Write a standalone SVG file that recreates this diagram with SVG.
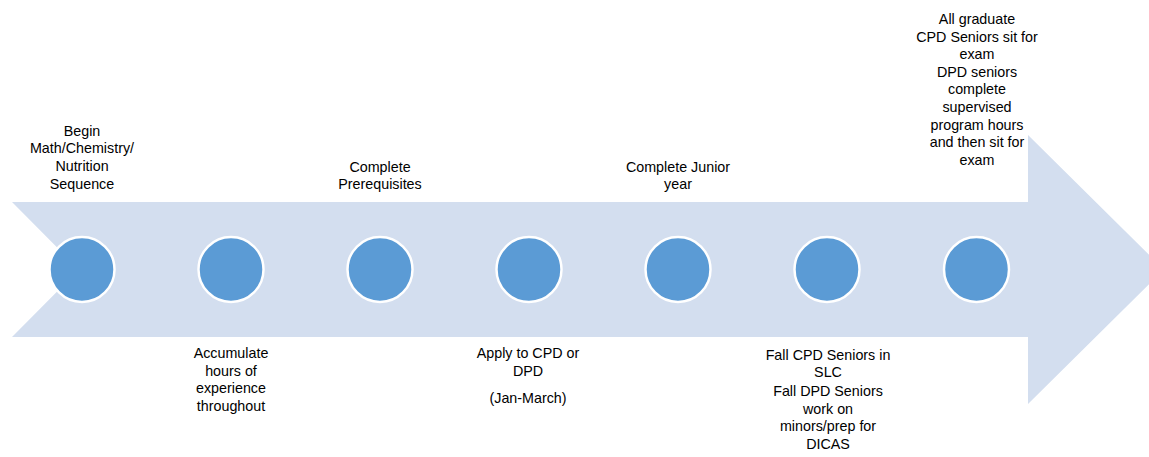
<svg xmlns="http://www.w3.org/2000/svg" width="1149" height="457" viewBox="0 0 1149 457">
<style>
.arrow{fill:#D3DEEF;}
.dot{fill:#5B9BD5;stroke:#FFFFFF;stroke-width:2.5;}
text{font-family:"Liberation Sans",Arial,sans-serif;font-size:14.3px;fill:#000000;text-anchor:middle;}
</style>
<g id="connectors">
<polygon id="timeline-arrow" class="arrow" points="12,202 1028,202 1028,135 1164,269.5 1028,404 1028,337 12,337 79,269.5"/>
</g>
<g id="node1">
<circle class="dot" cx="82" cy="269.5" r="32.5"/>
<text x="82" y="135.7">Begin</text>
<text x="82" y="153.3">Math/Chemistry/</text>
<text x="82" y="170.9">Nutrition</text>
<text x="82" y="188.5">Sequence</text>
</g>
<g id="node2">
<circle class="dot" cx="231" cy="269.5" r="32.5"/>
<text x="231" y="358">Accumulate</text>
<text x="231" y="375.6">hours of</text>
<text x="231" y="393.2">experience</text>
<text x="231" y="410.8">throughout</text>
</g>
<g id="node3">
<circle class="dot" cx="380" cy="269.5" r="32.5"/>
<text x="380" y="171.7">Complete</text>
<text x="380" y="189.2">Prerequisites</text>
</g>
<g id="node4">
<circle class="dot" cx="529" cy="269.5" r="32.5"/>
<text x="528" y="358">Apply to CPD or</text>
<text x="528" y="375.6">DPD</text>
<text x="528" y="402.5">(Jan-March)</text>
</g>
<g id="node5">
<circle class="dot" cx="678" cy="269.5" r="32.5"/>
<text x="678" y="171.7">Complete Junior</text>
<text x="678" y="189.2">year</text>
</g>
<g id="node6">
<circle class="dot" cx="827" cy="269.5" r="32.5"/>
<text x="828" y="359.5">Fall CPD Seniors in</text>
<text x="828" y="377.2">SLC</text>
<text x="828" y="396">Fall DPD Seniors</text>
<text x="828" y="413.6">work on</text>
<text x="828" y="431.2">minors/prep for</text>
<text x="828" y="448.8">DICAS</text>
</g>
<g id="node7">
<circle class="dot" cx="976.5" cy="269.5" r="32.5"/>
<text x="977" y="24">All graduate</text>
<text x="977" y="41.6">CPD Seniors sit for</text>
<text x="977" y="59.2">exam</text>
<text x="977" y="76.8">DPD seniors</text>
<text x="977" y="94.4">complete</text>
<text x="977" y="112">supervised</text>
<text x="977" y="129.6">program hours</text>
<text x="977" y="147.2">and then sit for</text>
<text x="977" y="164.8">exam</text>
</g>
</svg>
